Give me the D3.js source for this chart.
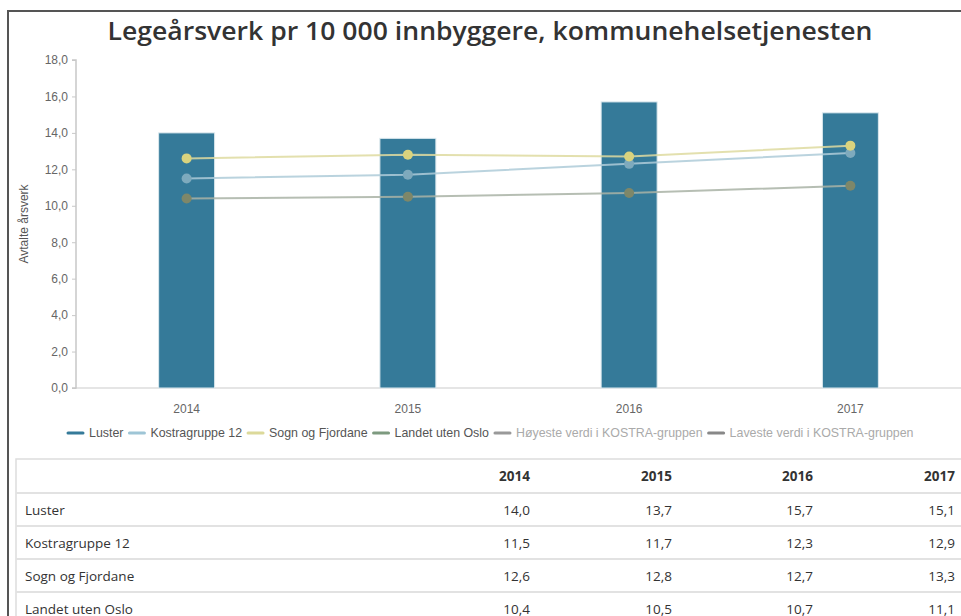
<!DOCTYPE html>
<html><head><meta charset="utf-8">
<script src="https://cdn.jsdelivr.net/npm/d3@7"></script>
<style>body{margin:0;background:#fff;overflow:hidden}svg{display:block}</style>
</head><body>
<script>
const years = ["2014","2015","2016","2017"];
const luster = [14.0, 13.7, 15.7, 15.1];
const kostra = [11.5, 11.7, 12.3, 12.9];
const sogn = [12.6, 12.8, 12.7, 13.3];
const landet = [10.4, 10.5, 10.7, 11.1];
const yTicks = [0,2,4,6,8,10,12,14,16,18];
const legendNames = ["Luster","Kostragruppe 12","Sogn og Fjordane","Landet uten Oslo","Høyeste verdi i KOSTRA-gruppen","Laveste verdi i KOSTRA-gruppen"];
const tableRows = [["Luster", luster],["Kostragruppe 12", kostra],["Sogn og Fjordane", sogn],["Landet uten Oslo", landet]];

const W=961,H=616;
const svg=d3.select("body").append("svg").attr("width",W).attr("height",H);
const fmt=v=>d3.format(".1f")(v).replace(".",",");

// frame
svg.append("path").attr("d","M8,616V11H961").attr("fill","none").attr("stroke","#555").attr("stroke-width",2);

const title=svg.append("text").attr("x",490).attr("y",40).attr("text-anchor","middle")
  .attr("font-family","Open Sans").attr("font-size",26).attr("font-weight",600).attr("fill","#333")
  .text("Legeårsverk pr 10 000 innbyggere, kommunehelsetjenesten");
{ const w=title.node().getComputedTextLength(); if (w>0) title.attr("textLength",765).attr("lengthAdjust","spacingAndGlyphs"); }

const x=d3.scaleBand().domain(years).range([76,961]).paddingInner(0.747).paddingOuter(0.3735);
const y=d3.scaleLinear().domain([0,18]).range([388,60]);

// baseline
svg.append("line").attr("x1",76).attr("x2",961).attr("y1",y(0)).attr("y2",y(0)).attr("stroke","#ddd").attr("stroke-width",1.5);

const ya=svg.append("g").attr("transform","translate(76,0)")
  .call(d3.axisLeft(y).tickValues(yTicks).tickFormat(fmt).tickSize(4).tickPadding(4));
ya.select(".domain").attr("stroke","#c8c8c8").attr("stroke-width",1.5).attr("d","M-4,60H0V388H-4");
ya.selectAll(".tick line").attr("stroke","#c8c8c8");
ya.selectAll("text").attr("font-family","Liberation Sans, Arial").attr("font-size",12).attr("fill","#666");

svg.append("text").attr("transform","translate(28,224) rotate(-90)").attr("text-anchor","middle")
  .attr("font-family","Liberation Sans, Arial").attr("font-size",12).attr("fill","#555").text("Avtalte årsverk");

const xa=svg.append("g").attr("transform","translate(0,388)").call(d3.axisBottom(x).tickSize(0).tickPadding(16));
xa.select(".domain").remove();
xa.selectAll("text").attr("font-family","Liberation Sans, Arial").attr("font-size",12).attr("fill","#666");

// bars
svg.append("g").selectAll("rect").data(years).join("rect")
  .attr("x",d=>x(d)).attr("width",x.bandwidth())
  .attr("y",(d,i)=>y(luster[i])).attr("height",(d,i)=>y(0)-y(luster[i]))
  .attr("fill","#357a99").attr("stroke","#dbe8ee").attr("stroke-width",1);

const series=[
  {vals:landet, line:"#a9b3a6", dot:"#7e8769"},
  {vals:kostra, line:"#aecbd8", dot:"#7eaabd"},
  {vals:sogn, line:"#dedaa0", dot:"#d9d37e"}
];
const cx=d=>x(d)+x.bandwidth()/2;
series.forEach(s=>{
  const line=d3.line().x((d,i)=>cx(years[i])).y(d=>y(d));
  svg.append("path").attr("d",line(s.vals)).attr("fill","none").attr("stroke",s.line).attr("stroke-width",2).attr("stroke-opacity",0.85);
  svg.append("g").selectAll("circle").data(s.vals).join("circle")
    .attr("cx",(d,i)=>cx(years[i])).attr("cy",d=>y(d)).attr("r",5).attr("fill",s.dot);
});

// legend
const legColors=["#357a99","#9ec5d6","#dcd99a","#7d9a7f","#999","#888"];
const legText=["#555","#555","#555","#555","#aaa","#aaa"];
let lx=68;
const lg=svg.append("g");
legendNames.forEach((n,i)=>{
  lg.append("line").attr("x1",lx).attr("x2",lx+15).attr("y1",433).attr("y2",433).attr("stroke",legColors[i]).attr("stroke-width",3).attr("stroke-linecap","round");
  const t=lg.append("text").attr("x",lx+21).attr("y",437).attr("font-family","Liberation Sans, Arial").attr("font-size",12.4).attr("fill",legText[i]).text(n);
  lx+=21+t.node().getComputedTextLength()+6;
});

// table
const tg=svg.append("g").attr("font-family","Open Sans").attr("font-size",13.5).attr("fill","#333");
const colX=[530,672,813,955];
tg.append("path").attr("d","M16,616V459H961").attr("fill","none").attr("stroke","#ddd").attr("stroke-width",1.5);
years.forEach((yr,j)=>tg.append("text").attr("x",colX[j]).attr("y",481).attr("text-anchor","end").attr("font-weight","bold").text(yr));
[493,526,559,592].forEach(ly=>tg.append("line").attr("x1",16).attr("x2",961).attr("y1",ly).attr("y2",ly).attr("stroke","#e2e2e2").attr("stroke-width",2));
tableRows.forEach((r,i)=>{
  const ty=515+i*33;
  tg.append("text").attr("x",25).attr("y",ty).text(r[0]);
  r[1].forEach((v,j)=>tg.append("text").attr("x",colX[j]).attr("y",ty).attr("text-anchor","end").text(fmt(v)));
});
</script>
</body></html>
